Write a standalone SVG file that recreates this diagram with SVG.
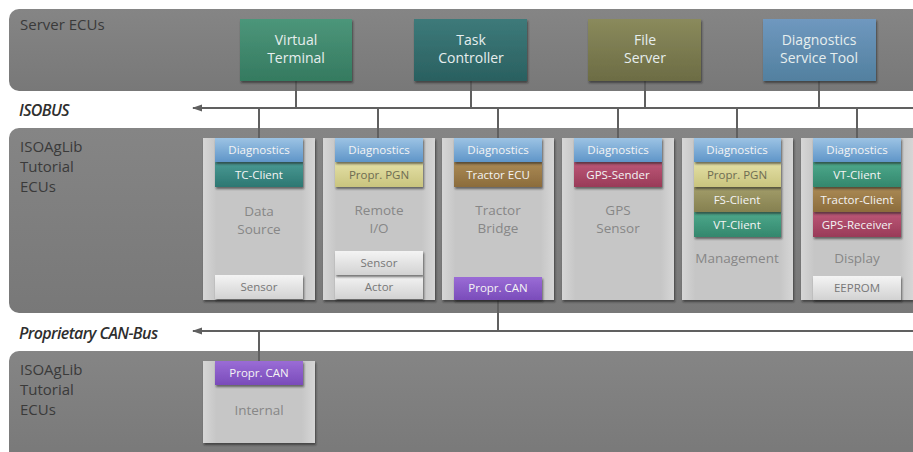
<svg xmlns="http://www.w3.org/2000/svg" width="913" height="452" viewBox="0 0 913 452">
  <defs>
    <linearGradient id="gBand" x1="0" y1="0" x2="0" y2="1">
      <stop offset="0" stop-color="#858585"/>
      <stop offset="1" stop-color="#787878"/>
    </linearGradient>
    <linearGradient id="gModule" x1="0" y1="0" x2="1" y2="0">
      <stop offset="0" stop-color="#d6d6d6"/>
      <stop offset="0.12" stop-color="#c6c6c6"/>
      <stop offset="0.88" stop-color="#c6c6c6"/>
      <stop offset="1" stop-color="#d6d6d6"/>
    </linearGradient>
    <linearGradient id="gDiag" x1="0" y1="0" x2="0" y2="1">
      <stop offset="0" stop-color="#9cc3e4"/>
      <stop offset="1" stop-color="#5f95c8"/>
    </linearGradient>
    <linearGradient id="gTeal" x1="0" y1="0" x2="0" y2="1">
      <stop offset="0" stop-color="#4a9a94"/>
      <stop offset="1" stop-color="#2d7772"/>
    </linearGradient>
    <linearGradient id="gGreen" x1="0" y1="0" x2="0" y2="1">
      <stop offset="0" stop-color="#4ea98c"/>
      <stop offset="1" stop-color="#33876d"/>
    </linearGradient>
    <linearGradient id="gYellow" x1="0" y1="0" x2="0" y2="1">
      <stop offset="0" stop-color="#e4e0a6"/>
      <stop offset="1" stop-color="#c9c47e"/>
    </linearGradient>
    <linearGradient id="gOlive" x1="0" y1="0" x2="0" y2="1">
      <stop offset="0" stop-color="#a29d6a"/>
      <stop offset="1" stop-color="#858050"/>
    </linearGradient>
    <linearGradient id="gBrown" x1="0" y1="0" x2="0" y2="1">
      <stop offset="0" stop-color="#ab8a55"/>
      <stop offset="1" stop-color="#8b6c3c"/>
    </linearGradient>
    <linearGradient id="gRed" x1="0" y1="0" x2="0" y2="1">
      <stop offset="0" stop-color="#bd5878"/>
      <stop offset="1" stop-color="#993a58"/>
    </linearGradient>
    <linearGradient id="gPurple" x1="0" y1="0" x2="0" y2="1">
      <stop offset="0" stop-color="#9a6cd6"/>
      <stop offset="1" stop-color="#7a4cba"/>
    </linearGradient>
    <linearGradient id="gLight" x1="0" y1="0" x2="0" y2="1">
      <stop offset="0" stop-color="#f4f4f4"/>
      <stop offset="1" stop-color="#d2d2d2"/>
    </linearGradient>
    <linearGradient id="gSrvVT" x1="0" y1="0" x2="0" y2="1">
      <stop offset="0" stop-color="#4c967a"/>
      <stop offset="1" stop-color="#357a60"/>
    </linearGradient>
    <linearGradient id="gSrvTC" x1="0" y1="0" x2="0" y2="1">
      <stop offset="0" stop-color="#3d7a7a"/>
      <stop offset="1" stop-color="#2a6060"/>
    </linearGradient>
    <linearGradient id="gSrvFS" x1="0" y1="0" x2="0" y2="1">
      <stop offset="0" stop-color="#8a8a5c"/>
      <stop offset="1" stop-color="#6c6c44"/>
    </linearGradient>
    <linearGradient id="gSrvDST" x1="0" y1="0" x2="0" y2="1">
      <stop offset="0" stop-color="#6f98bf"/>
      <stop offset="1" stop-color="#52809f"/>
    </linearGradient>
    <filter id="shadow" x="-10%" y="-10%" width="130%" height="140%">
      <feDropShadow dx="1" dy="2" stdDeviation="1.2" flood-color="#202020" flood-opacity="0.6"/>
    </filter>
    <!-- left-pointing head placed at the start of each bus line -->
    <marker id="arrow" viewBox="0 0 10 10" refX="1" refY="5" markerWidth="10" markerHeight="10" markerUnits="userSpaceOnUse" orient="auto">
      <path d="M0,5 L10,1.5 L10,8.5 Z" fill="#606060"/>
    </marker>
  </defs>
  <style>
    .band { fill: url(#gBand); }
    .bandLabel { font-family: "Open Sans", "Noto Sans", sans-serif; font-size: 15px; fill: #3a3a3a; }
    .busLabel { font-family: "Open Sans", "Noto Sans", sans-serif; font-size: 16px; font-style: italic; font-weight: 600; fill: #2e2e2e; letter-spacing: -0.6px; }
    .server rect { filter: url(#shadow); }
    .server text { font-family: "Open Sans", "Noto Sans", sans-serif; font-size: 14px; fill: #e6eeee; text-anchor: middle; }
    .module > rect { fill: url(#gModule); filter: url(#shadow); }
    .title { font-family: "Open Sans", "Noto Sans", sans-serif; font-size: 13.5px; fill: #878787; text-anchor: middle; }
    .comp rect { filter: url(#shadow); }
    .comp text { font-family: "Open Sans", "Noto Sans", sans-serif; font-size: 11.5px; fill: #f4f4f4; text-anchor: middle; }
    .comp text.dark { fill: #6e6c52; }
    .comp text.grey { fill: #777777; }
    .bus { stroke: #606060; stroke-width: 2; fill: none; }
  </style>

  <!-- background bands -->
  <rect class="band" x="9" y="9" width="920" height="82" rx="10"/>
  <rect class="band" x="9" y="128" width="920" height="185" rx="10"/>
  <rect class="band" x="9" y="351" width="920" height="115" rx="10"/>

  <text class="bandLabel" x="20" y="30">Server ECUs</text>
  <text class="busLabel" x="19" y="116">ISOBUS</text>
  <text class="bandLabel" x="20" y="152">ISOAgLib</text>
  <text class="bandLabel" x="20" y="172">Tutorial</text>
  <text class="bandLabel" x="20" y="192">ECUs</text>
  <text class="busLabel" x="19" y="339">Proprietary CAN-Bus</text>
  <text class="bandLabel" x="20" y="375">ISOAgLib</text>
  <text class="bandLabel" x="20" y="395">Tutorial</text>
  <text class="bandLabel" x="20" y="415">ECUs</text>

  <!-- bus lines and drops -->
  <g id="connectors">
    <line class="bus" x1="193" y1="108" x2="913" y2="108" marker-start="url(#arrow)"/>
    <line class="bus" x1="296" y1="81" x2="296" y2="108"/>
    <line class="bus" x1="471" y1="81" x2="471" y2="108"/>
    <line class="bus" x1="645" y1="81" x2="645" y2="108"/>
    <line class="bus" x1="819" y1="81" x2="819" y2="108"/>
    <line class="bus" x1="259" y1="108" x2="259" y2="138"/>
    <line class="bus" x1="378" y1="108" x2="378" y2="138"/>
    <line class="bus" x1="498" y1="108" x2="498" y2="138"/>
    <line class="bus" x1="618" y1="108" x2="618" y2="138"/>
    <line class="bus" x1="737" y1="108" x2="737" y2="138"/>
    <line class="bus" x1="857" y1="108" x2="857" y2="138"/>
    <line class="bus" x1="193" y1="331" x2="913" y2="331" marker-start="url(#arrow)"/>
    <line class="bus" x1="498" y1="300" x2="498" y2="331"/>
    <line class="bus" x1="259" y1="331" x2="259" y2="361"/>
  </g>

  <!-- server ECUs -->
  <g id="virtual-terminal" class="server">
    <rect x="240" y="19" width="112" height="62" fill="url(#gSrvVT)"/>
    <text x="296" y="45">Virtual</text>
    <text x="296" y="63">Terminal</text>
  </g>
  <g id="task-controller" class="server">
    <rect x="414" y="19" width="113" height="62" fill="url(#gSrvTC)"/>
    <text x="471" y="45">Task</text>
    <text x="471" y="63">Controller</text>
  </g>
  <g id="file-server" class="server">
    <rect x="588" y="19" width="113" height="62" fill="url(#gSrvFS)"/>
    <text x="645" y="45">File</text>
    <text x="645" y="63">Server</text>
  </g>
  <g id="diagnostics-service-tool" class="server">
    <rect x="763" y="19" width="113" height="62" fill="url(#gSrvDST)"/>
    <text x="819" y="45">Diagnostics</text>
    <text x="819" y="63">Service Tool</text>
  </g>

  <!-- tutorial ECUs -->
  <g id="data-source" class="module">
    <rect x="203" y="138" width="112" height="162"/>
    <g class="comp">
      <rect x="215" y="162" width="88" height="25" fill="url(#gTeal)"/>
      <text x="259" y="179">TC-Client</text>
      <rect x="215" y="138" width="88" height="24" fill="url(#gDiag)"/>
      <text x="259" y="154">Diagnostics</text>
      <rect x="215" y="275" width="88" height="24" fill="url(#gLight)"/>
      <text class="grey" x="259" y="291">Sensor</text>
    </g>
    <text class="title" x="259" y="216">Data</text>
    <text class="title" x="259" y="234">Source</text>
  </g>

  <g id="remote-io" class="module">
    <rect x="323" y="138" width="112" height="162"/>
    <g class="comp">
      <rect x="335" y="162" width="88" height="25" fill="url(#gYellow)"/>
      <text class="dark" x="379" y="179">Propr. PGN</text>
      <rect x="335" y="138" width="88" height="24" fill="url(#gDiag)"/>
      <text x="379" y="154">Diagnostics</text>
      <rect x="335" y="275" width="88" height="24" fill="url(#gLight)"/>
      <text class="grey" x="379" y="291">Actor</text>
      <rect x="335" y="251" width="88" height="24" fill="url(#gLight)"/>
      <text class="grey" x="379" y="267">Sensor</text>
    </g>
    <text class="title" x="379" y="215">Remote</text>
    <text class="title" x="379" y="233">I/O</text>
  </g>

  <g id="tractor-bridge" class="module">
    <rect x="442" y="138" width="112" height="162"/>
    <g class="comp">
      <rect x="454" y="162" width="88" height="25" fill="url(#gBrown)"/>
      <text x="498" y="179">Tractor ECU</text>
      <rect x="454" y="138" width="88" height="24" fill="url(#gDiag)"/>
      <text x="498" y="154">Diagnostics</text>
      <rect x="454" y="277" width="88" height="23" fill="url(#gPurple)"/>
      <text x="498" y="292">Propr. CAN</text>
    </g>
    <text class="title" x="498" y="215">Tractor</text>
    <text class="title" x="498" y="233">Bridge</text>
  </g>

  <g id="gps-sensor" class="module">
    <rect x="562" y="138" width="112" height="162"/>
    <g class="comp">
      <rect x="574" y="162" width="88" height="25" fill="url(#gRed)"/>
      <text x="618" y="179">GPS-Sender</text>
      <rect x="574" y="138" width="88" height="24" fill="url(#gDiag)"/>
      <text x="618" y="154">Diagnostics</text>
    </g>
    <text class="title" x="618" y="215">GPS</text>
    <text class="title" x="618" y="233">Sensor</text>
  </g>

  <g id="management" class="module">
    <rect x="682" y="138" width="111" height="162"/>
    <g class="comp">
      <rect x="694" y="212" width="87" height="25" fill="url(#gGreen)"/>
      <text x="737" y="229">VT-Client</text>
      <rect x="694" y="187" width="87" height="25" fill="url(#gOlive)"/>
      <text x="737" y="204">FS-Client</text>
      <rect x="694" y="162" width="87" height="25" fill="url(#gYellow)"/>
      <text class="dark" x="737" y="179">Propr. PGN</text>
      <rect x="694" y="138" width="87" height="24" fill="url(#gDiag)"/>
      <text x="737" y="154">Diagnostics</text>
    </g>
    <text class="title" x="737" y="263">Management</text>
  </g>

  <g id="display" class="module">
    <rect x="801" y="138" width="112" height="162"/>
    <g class="comp">
      <rect x="813" y="212" width="88" height="25" fill="url(#gRed)"/>
      <text x="857" y="229">GPS-Receiver</text>
      <rect x="813" y="187" width="88" height="25" fill="url(#gBrown)"/>
      <text x="857" y="204">Tractor-Client</text>
      <rect x="813" y="162" width="88" height="25" fill="url(#gGreen)"/>
      <text x="857" y="179">VT-Client</text>
      <rect x="813" y="138" width="88" height="24" fill="url(#gDiag)"/>
      <text x="857" y="154">Diagnostics</text>
      <rect x="813" y="276" width="88" height="24" fill="url(#gLight)"/>
      <text class="grey" x="857" y="292">EEPROM</text>
    </g>
    <text class="title" x="857" y="263">Display</text>
  </g>

  <g id="internal" class="module">
    <rect x="203" y="361" width="112" height="82"/>
    <g class="comp">
      <rect x="215" y="361" width="88" height="24" fill="url(#gPurple)"/>
      <text x="259" y="377">Propr. CAN</text>
    </g>
    <text class="title" x="259" y="415">Internal</text>
  </g>
</svg>
